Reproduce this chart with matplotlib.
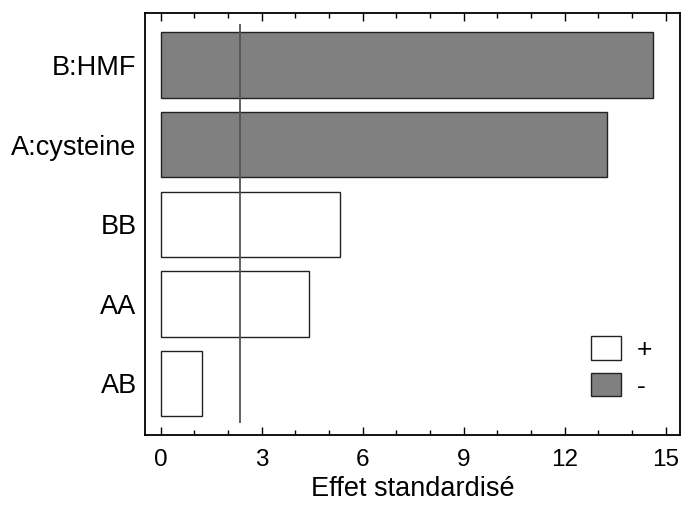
import matplotlib
matplotlib.use("Agg")
import matplotlib.pyplot as plt
from matplotlib.patches import Patch
from matplotlib.ticker import MultipleLocator

plt.rcParams['font.family'] = ['Liberation Sans', 'DejaVu Sans']

# effects, bottom to top
effects = ["AB", "AA", "BB", "A:cysteine", "B:HMF"]
std_effect = [1.23, 4.40, 5.33, 13.25, 14.61]
signs = ["+", "+", "+", "-", "-"]
t_crit = 2.36

colors = {"+": "white", "-": "#808080"}

fig = plt.figure(figsize=(6.83, 5.09), dpi=100)
ax = fig.add_axes([0.2123, 0.146, 0.7837, 0.829])

pos = list(range(len(effects)))
ax.barh(pos, std_effect, height=0.82,
        color=[colors[s] for s in signs],
        edgecolor="#222222", linewidth=1.0)

ax.vlines(t_crit, -0.5, 4.52, color="#555555", linewidth=1.3)

ax.set_xlim(-0.466, 15.43)
ax.set_ylim(-0.643, 4.657)
ax.set_yticks(pos)
ax.set_yticklabels(effects, fontsize=19.5)
ax.tick_params(axis="y", length=0, pad=6)

ax.xaxis.set_major_locator(MultipleLocator(3))
ax.xaxis.set_minor_locator(MultipleLocator(1))
ax.tick_params(axis="x", which="major", direction="in", length=6,
               width=1.0, top=True, labelsize=17.5, pad=10)
ax.tick_params(axis="x", which="minor", direction="in", length=3.5,
               width=1.0, top=True)
ax.set_xlabel("Effet standardisé", fontsize=19.5, labelpad=4)

for sp in ax.spines.values():
    sp.set_linewidth(1.3)

handles = [Patch(facecolor=colors["+"], edgecolor="#222222", label="+"),
           Patch(facecolor=colors["-"], edgecolor="#222222", label="-")]
ax.legend(handles=handles, loc="upper left", bbox_to_anchor=(0.833, 0.233),
          frameon=False, fontsize=19, handlelength=1.15, handleheight=1.0,
          handletextpad=0.6, labelspacing=0.4, borderpad=0, borderaxespad=0)

fig.savefig("out.png", dpi=100)
